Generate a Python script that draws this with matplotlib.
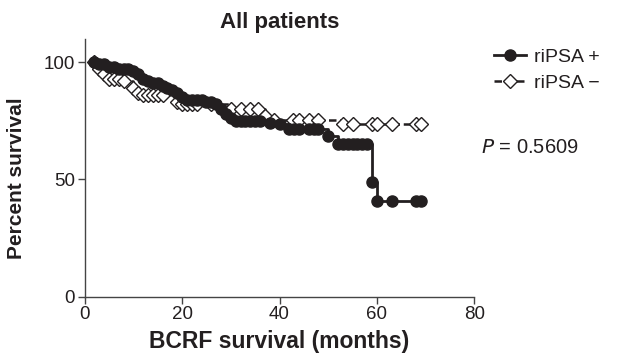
import matplotlib.pyplot as plt

plt.rcParams['font.family'] = ['Liberation Sans', 'DejaVu Sans']

# riPSA + (months, percent survival)
pos_months = [2, 3, 4, 5, 6, 7, 8, 9, 10, 11, 12, 13, 14, 15, 16, 17, 18, 19, 20, 21, 22, 23,
              24, 25, 26, 27, 28, 29, 30, 31, 32, 33, 34, 35, 36, 38, 40, 42, 43, 44, 46, 47,
              48, 50, 52, 53, 54, 55, 56, 57, 58, 59, 60, 63, 68, 69]
pos_surv = [100, 99, 99, 98, 98, 97, 97, 97, 96, 95, 93, 92, 91, 91, 90, 89, 88, 87, 85, 84, 84, 84,
            84, 83, 83, 82, 80, 78, 76, 75, 75, 75, 75, 75, 75, 74, 73.5, 71.5, 71.5, 71.5, 71.5, 71.5,
            71.5, 68.5, 65, 65, 65, 65, 65, 65, 65, 49, 41, 41, 41, 41]

# riPSA - (months, percent survival)
neg_months = [2, 3, 4, 5, 6, 7, 8, 10, 11, 12, 13, 14, 15, 16, 19, 20, 21, 22, 23, 26, 30, 32,
              34, 35.5, 37, 38.8, 42.7, 44, 46, 48, 53, 55, 59, 60, 63, 68, 69]
neg_surv = [100, 97, 95, 93, 93, 93, 92, 89, 87, 86, 86, 86, 86, 86, 83, 82, 82, 82, 82, 82, 80, 80,
            80, 80, 77, 75.3, 75.3, 75.3, 75.3, 75.3, 73.6, 73.6, 73.6, 73.6, 73.6, 73.6, 73.6]

fig = plt.figure(figsize=(6.17, 3.61), dpi=100)
ax = fig.add_axes([0.137, 0.178, 0.632, 0.715])

col = '#231f20'
ax.plot(neg_months, neg_surv, drawstyle='steps-post', color=col, lw=1.8, ls=(0, (3, 1.5)),
        marker='D', markersize=7.5, markerfacecolor='white', markeredgecolor=col,
        markeredgewidth=1.0, label='riPSA \u2212', zorder=2)
ax.plot(pos_months, pos_surv, drawstyle='steps-post', color=col, lw=2,
        marker='o', markersize=8, markerfacecolor=col, markeredgecolor=col,
        label='riPSA +', zorder=3)

ax.set_xlim(0, 80)
ax.set_ylim(0, 110)
ax.set_xticks([0, 20, 40, 60, 80])
ax.set_yticks([0, 50, 100])
ax.spines['top'].set_visible(False)
ax.spines['right'].set_visible(False)
for s in ['left', 'bottom']:
    ax.spines[s].set_color('#444444')
    ax.spines[s].set_linewidth(1)
ax.tick_params(axis='both', labelsize=13.5, length=5, width=1, color='#444444', labelcolor=col, pad=2)

ax.set_title('All patients', fontsize=16, fontweight='bold', color=col, pad=8)
ax.set_xlabel('BCRF survival (months)', fontsize=16.5, fontweight='bold', color=col, labelpad=5)
ax.set_ylabel('Percent survival', fontsize=15, fontweight='bold', color=col)
ax.yaxis.set_label_coords(-0.15, 0.46)

h, l = ax.get_legend_handles_labels()
fig.legend(h[::-1], l[::-1], loc='upper left', bbox_to_anchor=(0.773, 0.915), frameon=False,
           fontsize=14, handlelength=1.6, handletextpad=0.45, labelspacing=0.45,
           labelcolor=col)

fig.text(0.78, 0.575, r'$\it{P}$ = 0.5609', fontsize=14.5, color=col)

fig.savefig('out.png', dpi=100)
